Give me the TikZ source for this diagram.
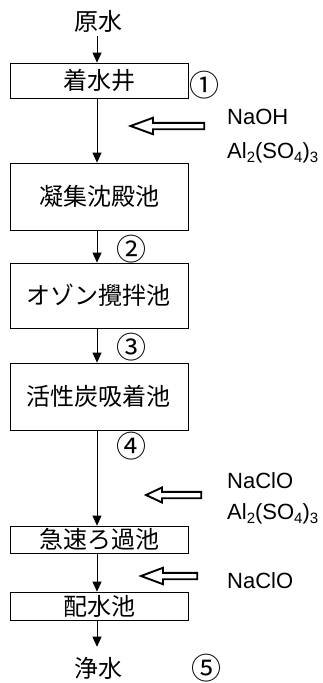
\documentclass[tikz,border=0pt]{standalone}
\usepackage{fontspec}
\setmainfont{Liberation Sans}
\newfontfamily\cjk{Noto Sans CJK JP}
\usetikzlibrary{arrows.meta}
\newcommand\sbs[1]{\raisebox{-0.35ex}{\fontsize{15}{15}\selectfont #1}}
\begin{document}
\begin{tikzpicture}[x=1pt,y=-1pt,
  box/.style={draw, line width=0.8pt, minimum width=178pt, inner sep=0pt, font=\cjk\fontsize{24}{28}\selectfont},
  jlabel/.style={inner sep=0pt, font=\cjk\fontsize{24}{28}\selectfont},
  num/.style={inner sep=0pt, font=\cjk\fontsize{30}{32}\selectfont},
  chem/.style={inner sep=0pt, anchor=base west, font=\fontsize{22}{26}\selectfont},
  flow/.style={line width=0.8pt, -{Triangle[width=9pt,length=10pt]}},
  hollow/.style={line width=1.9pt, fill=white, line join=miter}]
\useasboundingbox (0,0) rectangle (323,683);
% main column
\node[jlabel] (src) at (98,21) {原水};
\node[box, minimum height=35pt] (b1) at (99,80.5) {着水井};
\node[box, minimum height=67pt] (b2) at (99,196.5) {凝集沈殿池};
\node[box, minimum height=65pt] (b3) at (99,295.5) {オゾン攪拌池};
\node[box, minimum height=67pt] (b4) at (99,396.5) {活性炭吸着池};
\node[box, minimum height=27pt] (b5) at (99,539.5) {急速ろ過池};
\node[box, minimum height=28pt] (b6) at (99,606) {配水池};
\node[jlabel] (dst) at (98,668) {浄水};
% connectors
\draw[flow, shorten <=4pt] ([xshift=-1pt]src.south) -- ([xshift=-2pt]b1.north);
\draw[flow] ([xshift=-2pt]b1.south) -- ([xshift=-2pt]b2.north);
\draw[flow] ([xshift=-2pt]b2.south) -- ([xshift=-2pt]b3.north);
\draw[flow] ([xshift=-2pt]b3.south) -- ([xshift=-2pt]b4.north);
\draw[flow] ([xshift=-2pt]b4.south) -- ([xshift=-2pt]b5.north);
\draw[flow] ([xshift=-2pt]b5.south) -- ([xshift=-2pt]b6.north);
\draw[flow, shorten >=10pt] ([xshift=-2pt]b6.south) -- ([xshift=-1pt]dst.north);
% circled numbers
\node[num] (n1) at (204,85) {①};
\node[num] (n2) at (131,249) {②};
\node[num] (n3) at (131,347) {③};
\node[num] (n4) at (131,446) {④};
\node[num] (n5) at (206,668) {⑤};
% chemicals
\node[chem] (c1) at (227,124) {NaOH};
\node[chem] (c2) at (227,158) {Al\sbs{2}(SO\sbs{4})\sbs{3}};
\node[chem] (c3) at (227,488) {NaClO};
\node[chem] (c4) at (227,519) {Al\sbs{2}(SO\sbs{4})\sbs{3}};
\node[chem] (c5) at (227,588) {NaClO};
% hollow dosing arrows
\draw[hollow] (130.5,126) -- (153,117.8) -- (153,122.8) -- (204.2,122.8) -- (204.2,129.2) -- (153,129.2) -- (153,134.2) -- cycle;
\draw[hollow] (146,495) -- (162,487.5) -- (162,491.8) -- (201.2,491.8) -- (201.2,498.2) -- (162,498.2) -- (162,502.5) -- cycle;
\draw[hollow] (141,576) -- (163,567.8) -- (163,572.8) -- (197.2,572.8) -- (197.2,579.2) -- (163,579.2) -- (163,584.2) -- cycle;
\end{tikzpicture}
\end{document}
